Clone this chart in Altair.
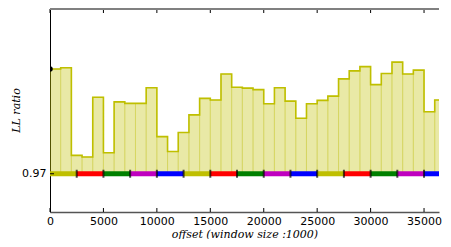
import altair as alt
import pandas as pd

# --- data ---
bar_starts = [i * 1000 for i in range(37)] + [36500]
bar_ends = [(i + 1) * 1000 for i in range(36)] + [36500, 37100]
ll_ratio = [0.9974, 0.9977, 0.9748, 0.9744, 0.9900, 0.9755, 0.9888, 0.9884, 0.9884, 0.9925,
            0.9797, 0.9758, 0.9808, 0.9854, 0.9897, 0.9893, 0.9961, 0.9926, 0.9924, 0.9920,
            0.9883, 0.9925, 0.9890, 0.9845, 0.9883, 0.9892, 0.9903, 0.9948, 0.9969, 0.9980,
            0.9933, 0.9962, 0.9992, 0.9961, 0.9971, 0.9862, 0.9893, 0.9879]
baseline = 0.97
seg_starts = [i * 2500 for i in range(15)]
seg_ends = [(i + 1) * 2500 for i in range(14)] + [37100]
seg_colors = ["#bfbf00", "#ff0000", "#008000", "#bf00bf", "#0000ff"] * 3
boundaries = [i * 2500 for i in range(1, 15)]
x_ticks = [0, 5000, 10000, 15000, 20000, 25000, 30000, 35000]
y_ticks = [0.97]

X_DOMAIN = [0, 36400]
Y_DOMAIN = [0.96, 1.01308]
W, H = 389, 203

bars = pd.DataFrame({"x": bar_starts, "x2": bar_ends, "v": ll_ratio, "b": baseline})
step = pd.DataFrame({"x": bar_starts + [bar_ends[-1]], "v": ll_ratio + [ll_ratio[-1]]})
segs = pd.DataFrame({"x": seg_starts, "x2": seg_ends, "c": seg_colors, "y": baseline})
bnd = pd.DataFrame({"x": boundaries, "y": baseline})
xt = pd.DataFrame({"x": x_ticks})
yt = pd.DataFrame({"y": y_ticks})
first = pd.DataFrame({"x": [bar_starts[0]], "v": [ll_ratio[0]]})

xs = alt.Scale(domain=X_DOMAIN, nice=False, zero=False)
ys = alt.Scale(domain=Y_DOMAIN, nice=False, zero=False)

x_axis = alt.Axis(values=x_ticks, title="offset (window size :1000)", grid=False, format="d",
                  tickSize=0, labelPadding=3, labelFont="DejaVu Sans", labelFontSize=11,
                  labelColor="black", domainColor="#555555", domainWidth=1.5,
                  titleFont="DejaVu Serif", titleFontStyle="italic", titleFontWeight="normal",
                  titleFontSize=11, titleColor="black", titlePadding=2, labelFlush=False)
y_axis = alt.Axis(values=y_ticks, title="LL ratio", grid=False, tickSize=0, labelPadding=4,
                  labelFont="DejaVu Sans", labelFontSize=11, labelColor="black",
                  domainColor="black", domainWidth=1, format=".2f",
                  titleFont="DejaVu Serif", titleFontStyle="italic", titleFontWeight="normal",
                  titleFontSize=11, titleColor="black", titleX=-29, titleY=101,
                  titleAngle=-90, titleAlign="center", titleBaseline="bottom")

fill = alt.Chart(bars).mark_rect(fill="#bfbf00", fillOpacity=0.35, stroke="#bfbf00",
                                 strokeOpacity=0.25, strokeWidth=1, clip=True).encode(
    x=alt.X("x:Q", scale=xs, axis=x_axis), x2="x2:Q",
    y=alt.Y("v:Q", scale=ys, axis=y_axis), y2="b:Q")

line = alt.Chart(step).mark_line(interpolate="step-after", color="#bfbf00", strokeWidth=1.6,
                                 clip=True).encode(
    x=alt.X("x:Q", scale=xs), y=alt.Y("v:Q", scale=ys))

band = alt.Chart(segs).mark_rule(strokeWidth=5, clip=True).encode(
    x=alt.X("x:Q", scale=xs), x2="x2:Q", y=alt.Y("y:Q", scale=ys),
    color=alt.Color("c:N", scale=None))

marks = alt.Chart(bnd).mark_tick(color="black", thickness=2, size=8, orient="vertical",
                                 clip=True).encode(
    x=alt.X("x:Q", scale=xs), y=alt.Y("y:Q", scale=ys))

pt = alt.Chart(first).mark_point(filled=True, color="black", size=30, opacity=1, clip=True).encode(
    x=alt.X("x:Q", scale=xs), y=alt.Y("v:Q", scale=ys))

tick_bottom = alt.Chart(xt).mark_rule(color="black", strokeWidth=1).encode(
    x=alt.X("x:Q", scale=xs), y=alt.value(H), y2=alt.value(H - 4))
tick_top = alt.Chart(xt).mark_rule(color="black", strokeWidth=1).encode(
    x=alt.X("x:Q", scale=xs), y=alt.value(0), y2=alt.value(4))
top_spine = alt.Chart(xt).mark_rule(color="#808080", strokeWidth=2).encode(
    x=alt.value(0), x2=alt.value(W), y=alt.value(0))
tick_left = alt.Chart(yt).mark_rule(color="black", strokeWidth=1).encode(
    y=alt.Y("y:Q", scale=ys), x=alt.value(0), x2=alt.value(4))

chart = alt.layer(fill, line, band, marks, pt, tick_bottom, tick_top, tick_left, top_spine).properties(
    width=W, height=H,
    autosize=alt.AutoSizeParams(type="none"),
    padding={"left": 42, "top": 1, "right": 4, "bottom": 27},
).configure_view(stroke=None)

chart.save("out.html", embed_options={"renderer": "svg", "actions": False})
